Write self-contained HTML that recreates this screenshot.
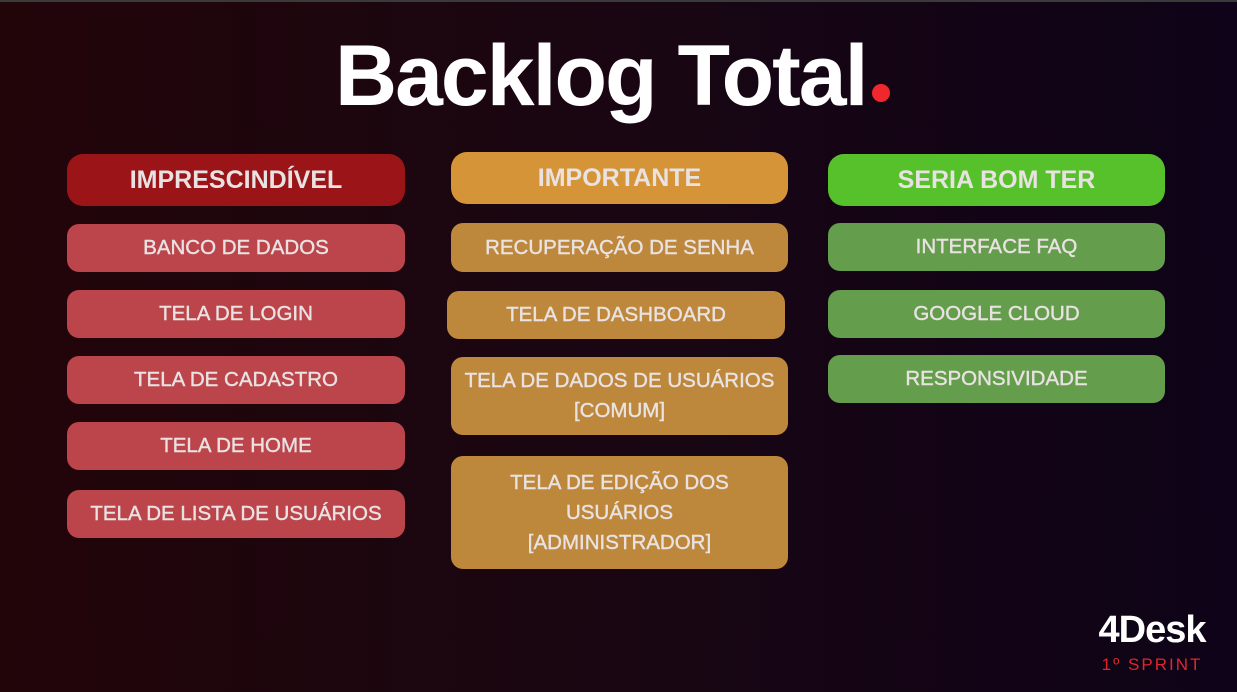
<!DOCTYPE html>
<html><head><meta charset="utf-8"><style>
*{margin:0;padding:0;box-sizing:border-box}
body{width:1237px;height:692px;overflow:hidden;position:relative;font-family:"Liberation Sans",sans-serif;background:linear-gradient(90deg,#220509 0%,#190612 50%,#0e0318 100%)}
.top{position:absolute;left:0;top:0;width:1237px;height:2px;background:#3a3a3a}
.b{position:absolute;display:flex;align-items:center;justify-content:center;text-align:center;color:#e9e2e2;border-radius:12px;font-size:20.5px;line-height:30px;-webkit-text-stroke:0.4px #e9e2e2}
.h{font-size:25px;font-weight:bold;border-radius:16px;-webkit-text-stroke:0}
.r{background:#bb454a}.o{background:#be883c}.g{background:#649d4c}
h1{position:absolute;left:335px;top:26px;white-space:nowrap;color:#fff;font-size:86px;font-weight:bold;letter-spacing:-2px;line-height:100px}
.dot{position:absolute;left:872px;top:84px;width:18px;height:18px;border-radius:50%;background:#f0282e}
</style></head><body>
<div class="top"></div>
<h1>Backlog Total</h1>
<div class="dot"></div>

<div class="b h" style="left:67px;top:154px;width:338px;height:52px;background:#9a1418">IMPRESCINDÍVEL</div>
<div class="b r" style="left:67px;top:224px;width:338px;height:48px">BANCO DE DADOS</div>
<div class="b r" style="left:67px;top:290px;width:338px;height:48px">TELA DE LOGIN</div>
<div class="b r" style="left:67px;top:356px;width:338px;height:48px">TELA DE CADASTRO</div>
<div class="b r" style="left:67px;top:422px;width:338px;height:48px">TELA DE HOME</div>
<div class="b r" style="left:67px;top:490px;width:338px;height:48px">TELA DE LISTA DE USUÁRIOS</div>

<div class="b h" style="left:451px;top:152px;width:337px;height:52px;background:#d59437">IMPORTANTE</div>
<div class="b o" style="left:451px;top:223px;width:337px;height:49px">RECUPERAÇÃO DE SENHA</div>
<div class="b o" style="left:447px;top:291px;width:338px;height:48px">TELA DE DASHBOARD</div>
<div class="b o" style="left:451px;top:357px;width:337px;height:78px">TELA DE DADOS DE USUÁRIOS<br>[COMUM]</div>
<div class="b o" style="left:451px;top:456px;width:337px;height:113px">TELA DE EDIÇÃO DOS<br>USUÁRIOS<br>[ADMINISTRADOR]</div>

<div class="b h" style="left:828px;top:154px;width:337px;height:52px;background:#56c12b">SERIA BOM TER</div>
<div class="b g" style="left:828px;top:223px;width:337px;height:48px">INTERFACE FAQ</div>
<div class="b g" style="left:828px;top:290px;width:337px;height:48px">GOOGLE CLOUD</div>
<div class="b g" style="left:828px;top:355px;width:337px;height:48px">RESPONSIVIDADE</div>

<div style="position:absolute;left:1088px;top:609px;width:128px;text-align:center;color:#fff;font-weight:bold;font-size:38px;letter-spacing:-1px">4Desk</div>
<div style="position:absolute;left:1088px;top:655px;width:128px;text-align:center;color:#e0262c;font-size:17px;letter-spacing:2px">1º SPRINT</div>
</body></html>
